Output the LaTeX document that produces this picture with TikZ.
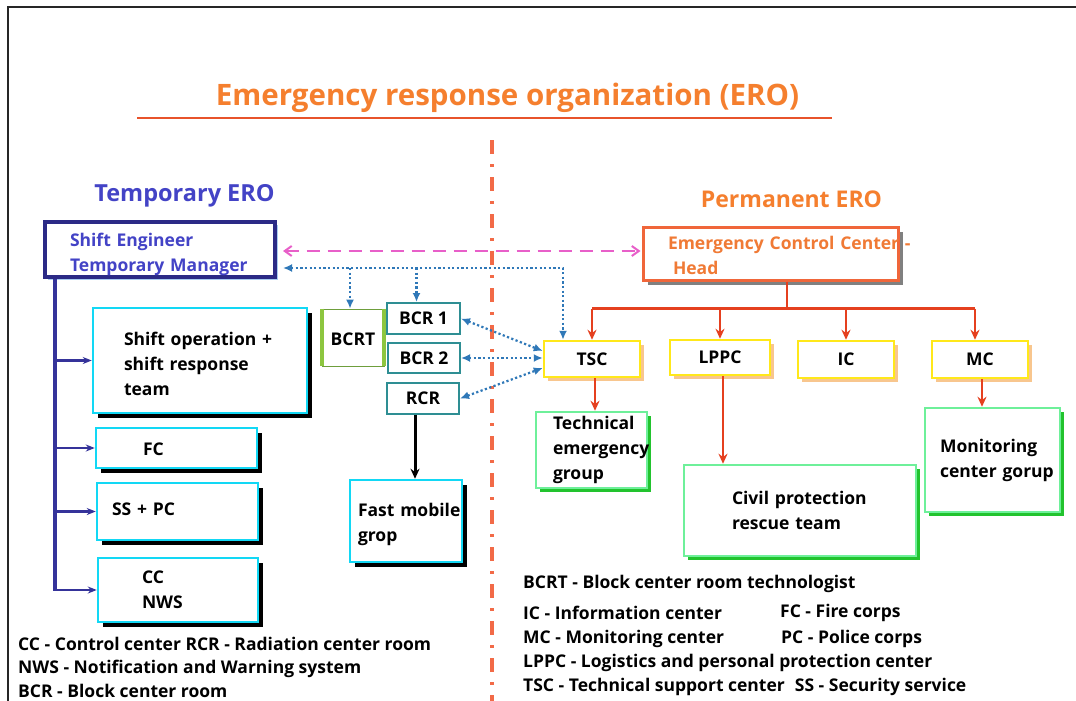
\documentclass[tikz,border=0pt]{standalone}
\usepackage{fontspec}
\setmainfont{Open Sans}
\usetikzlibrary{arrows.meta,calc,shadows}

\definecolor{titleorange}{HTML}{F57F2E}
\definecolor{lineorange}{HTML}{E8532B}
\definecolor{divorange}{HTML}{F26A47}
\definecolor{navy}{HTML}{2B2A86}
\definecolor{navyline}{HTML}{35339A}
\definecolor{tempblue}{HTML}{4343C6}
\definecolor{seshadow}{HTML}{A8CCF0}
\definecolor{cyanB}{HTML}{12D8F5}
\definecolor{tealB}{HTML}{2E8E93}
\definecolor{bcrtgreen}{HTML}{8DC63F}
\definecolor{bcrtdark}{HTML}{6E9E3C}
\definecolor{yellowB}{HTML}{FFE81A}
\definecolor{yshadow}{HTML}{F8C68E}
\definecolor{greenB}{HTML}{6EF09A}
\definecolor{gshadow}{HTML}{22C32E}
\definecolor{eccB}{HTML}{F0663A}
\definecolor{ecctext}{HTML}{F07A35}
\definecolor{redline}{HTML}{E5401F}
\definecolor{pinkline}{HTML}{E85FC9}
\definecolor{bluedot}{HTML}{2F78B8}

% raises the first line of a box text so the block sits a little lower
\newcommand{\lowerby}[1]{\rule{0pt}{#1}}

\tikzset{
  boxtext/.style={font=\fontsize{17.5}{25}\selectfont\bfseries},
  box/.style={draw, fill=white, align=left, inner ysep=0pt, boxtext},
  sebox/.style={box, draw=navy, line width=4pt, text=tempblue,
    drop shadow={shadow xshift=3pt, shadow yshift=-3pt, fill=seshadow, opacity=1}},
  eccbox/.style={box, draw=eccB, line width=3pt, text=ecctext,
    drop shadow={shadow xshift=5pt, shadow yshift=-5pt, fill=black!50, opacity=1}},
  cyanbox/.style={box, draw=cyanB, line width=2.5pt,
    drop shadow={shadow xshift=5pt, shadow yshift=-5pt, fill=black, opacity=1}},
  bcrbox/.style={box, draw=tealB, line width=2pt, align=center},
  bcrtbox/.style={box, draw=bcrtdark, line width=0.8pt, align=center},
  bcrtedge/.style={draw=bcrtgreen, line width=4pt},
  ybox/.style={box, draw=yellowB, line width=2.5pt, align=center,
    drop shadow={shadow xshift=4pt, shadow yshift=-4pt, fill=yshadow, opacity=1}},
  gbox/.style={box, draw=greenB, line width=2.5pt,
    drop shadow={shadow xshift=4pt, shadow yshift=-4pt, fill=gshadow, opacity=1}},
  legend/.style={anchor=west, inner sep=0pt, font=\fontsize{17.5}{20}\selectfont\bfseries},
  trunk/.style={draw=navyline, line width=4pt},
  branch/.style={draw=navyline, line width=2.5pt, -{Stealth[length=9pt,width=7pt]}},
  redarrow/.style={draw=redline, line width=2.8pt, -{Stealth[length=10pt,width=9pt]}},
  redline/.style={draw=redline, line width=2.8pt},
  dotline/.style={draw=bluedot, line width=2.2pt, dash pattern=on 2.2pt off 2.4pt},
  dotarrow/.style={dotline, -{Latex[length=9pt,width=8pt]}},
  dotboth/.style={dotline, {Latex[length=9pt,width=8pt]}-{Latex[length=9pt,width=8pt]}},
  pinkarrow/.style={draw=pinkline, line width=2pt, dash pattern=on 13pt off 8pt,
    {Straight Barb[length=7pt,width=10pt]}-{Straight Barb[length=7pt,width=10pt]}},
}

\begin{document}
\begin{tikzpicture}[x=1pt,y=-1pt]
\useasboundingbox (0,0) rectangle (1076,701);
\fill[white] (0,0) rectangle (1076,701);

% outer frame (left and top edges)
\draw[line width=1.5pt, black!85] (8,701) -- (8,7) -- (1076,7);

% title and its underline
\node[text=titleorange, font=\fontsize{29.5}{33}\selectfont\bfseries] (title) at (507.5,98)
  {Emergency response organization (ERO)};
\draw[lineorange, line width=2.5pt] (137,118) -- (832,118);

% divider between the two organizations
\draw[divorange, line width=3.5pt, dash pattern=on 14pt off 10pt on 3pt off 10pt] (492,140) -- (492,701);

\node[text=tempblue, font=\fontsize{23.5}{27}\selectfont\bfseries] (tero) at (184.5,196) {Temporary ERO};
\node[text=titleorange, font=\fontsize{23}{27}\selectfont\bfseries] (pero) at (791.5,199) {Permanent ERO};

% heads
\node[sebox, minimum width=230pt, minimum height=55pt, inner xsep=25pt, text width=180pt]
  (se) at (160,249.5) {\lowerby{23pt}\mbox{Shift Engineer}\\\mbox{Temporary Manager}};
\node[eccbox, minimum width=255pt, minimum height=53pt, inner xsep=25pt, text width=205pt]
  (ecc) at (770.5,253.5) {\lowerby{18pt}\mbox{Emergency Control Center -}\\\hspace*{5pt}Head};

% temporary organization
\node[cyanbox, minimum width=214pt, minimum height=105pt, inner xsep=31pt, text width=152pt]
  (so) at (200,360.5) {\lowerby{20pt}\mbox{Shift operation +}\\\mbox{shift response}\\team};
\node[cyanbox, minimum width=161pt, minimum height=40pt, inner xsep=47pt, text width=67pt]
  (fc) at (176.5,448) {\lowerby{16pt}FC};
\node[cyanbox, minimum width=161pt, minimum height=57pt, inner xsep=15pt, text width=131pt]
  (sspc) at (177.5,511.5) {\raisebox{5pt}{\mbox{SS + PC}}};
\node[cyanbox, minimum width=160pt, minimum height=64pt, inner xsep=44pt, text width=72pt]
  (cc) at (178,590) {CC\\NWS};
\node[cyanbox, minimum width=112pt, minimum height=82pt, inner xsep=8pt, text width=96pt]
  (fmg) at (406,521) {\lowerby{21pt}\mbox{Fast mobile}\\grop};

\node[bcrtbox, minimum width=62pt, minimum height=57pt] (bcrt) at (353,337.5) {\lowerby{17pt}BCRT};
\draw[bcrtedge] (bcrt.north west) -- (bcrt.south west);
\draw[bcrtedge] (bcrt.north east) -- (bcrt.south east);
\node[bcrbox, minimum width=73pt, minimum height=31pt] (bcr1) at (423.5,318.5) {BCR 1};
\node[bcrbox, minimum width=72pt, minimum height=30pt] (bcr2) at (424,358) {BCR 2};
\node[bcrbox, minimum width=72pt, minimum height=31pt] (rcr) at (423,398.5) {RCR};

% permanent organization
\node[ybox, minimum width=96pt, minimum height=36pt] (tsc) at (592,359) {TSC};
\node[ybox, minimum width=100pt, minimum height=35pt] (lppc) at (720,357.5) {LPPC};
\node[ybox, minimum width=96pt, minimum height=37pt] (ic) at (846,359.5) {IC};
\node[ybox, minimum width=96pt, minimum height=37pt] (mc) at (980,359.5) {MC};

\node[gbox, minimum width=111pt, minimum height=76pt, inner xsep=17pt, text width=77pt]
  (teg) at (591.5,450) {\mbox{Technical}\\\mbox{emergency}\\group};
\node[gbox, minimum width=232pt, minimum height=91pt, inner xsep=48pt, text width=136pt]
  (cprt) at (800,510.5) {\mbox{Civil protection}\\\mbox{rescue team}};
\node[gbox, minimum width=135pt, minimum height=104pt, inner xsep=15pt, text width=105pt]
  (mcg) at (992.5,460) {\mbox{Monitoring}\\\mbox{center gorup}};

% links between the heads
\draw[pinkarrow] ($(se.east)+(6,1.5)$) -- ($(ecc.west)+(-1,-2.5)$);
\coordinate (bus) at ($(se.east)+(6,18.5)$);
\draw[dotboth] (bus) -| ($(tsc.north)+(-29,0)$);
\coordinate (d1) at ($(bcrt.north)+(-3,0)$);
\coordinate (d2) at ($(bcr1.north)+(-7,0)$);
\draw[dotarrow] (d1 |- bus) -- (d1);
\draw[dotarrow] (d2 |- bus) -- (d2);

% TSC and the block rooms
\draw[dotboth] (bcr1.east) -- ($(tsc.west)+(0,-8)$);
\draw[dotboth] (bcr2.east) -- ($(tsc.west)+(0,-1)$);
\draw[dotboth] (rcr.east) -- ($(tsc.west)+(0,9)$);

% temporary organization tree
\coordinate (trunktop) at ($(se.south west)+(12,0)$);
\draw[trunk] (trunktop) -- (trunktop |- cc.west);
\draw[branch] ($(trunktop |- cc.west)+(-2,0)$) -- (cc.west);
\draw[branch] (trunktop |- so.west) -- (so.west);
\draw[branch] (trunktop |- fc.west) -- (fc.west);
\draw[branch] (trunktop |- sspc.west) -- (sspc.west);

\coordinate (r1) at ($(rcr.south)+(-8,0)$);
\draw[black, line width=3pt, -{Stealth[length=10pt,width=9pt]}] (r1) -- (r1 |- fmg.north);

% permanent organization tree
\coordinate (rb) at ($(ecc.south)+(16.5,27)$);
\coordinate (mcin) at ($(mc.north)+(-5,0)$);
\coordinate (tscout) at ($(tsc.south)+(3,0)$);
\coordinate (lppcout) at ($(lppc.south)+(3,0)$);
\coordinate (mcout) at ($(mc.south)+(2,0)$);
\draw[redline] (rb |- ecc.south) -- (rb);
\draw[redline] (tsc.north |- rb) -- (mcin |- rb);
\draw[redarrow] (tsc.north |- rb) -- (tsc.north);
\draw[redarrow] (lppc.north |- rb) -- (lppc.north);
\draw[redarrow] (ic.north |- rb) -- (ic.north);
\draw[redarrow] (mcin |- rb) -- (mcin);
\draw[redarrow] (tscout) -- (tscout |- teg.north);
\draw[redarrow] (lppcout) -- (lppcout |- cprt.north);
\draw[redarrow] (mcout) -- (mcout |- mcg.north);

% abbreviations
\node[legend] (lgcc) at (18,644) {CC - Control center RCR - Radiation center room};
\node[legend] (lgnws) at (18,669) {NWS - Notification and Warning system};
\node[legend] (lgbcr) at (18,691) {BCR - Block center room};
\node[legend] (lgbcrt) at (523,584) {BCRT - Block center room technologist};
\node[legend] (lgic) at (523,613) {IC - Information center};
\node[legend] (lgfc) at (780,613) {FC - Fire corps};
\node[legend] (lgmc) at (523,639) {MC - Monitoring center};
\node[legend] (lgpc) at (781,639) {PC - Police corps};
\node[legend] (lglppc) at (523,663) {LPPC - Logistics and personal protection center};
\node[legend] (lgtsc) at (523,687) {TSC - Technical support center\hspace{10pt}SS - Security service};
\end{tikzpicture}
\end{document}
